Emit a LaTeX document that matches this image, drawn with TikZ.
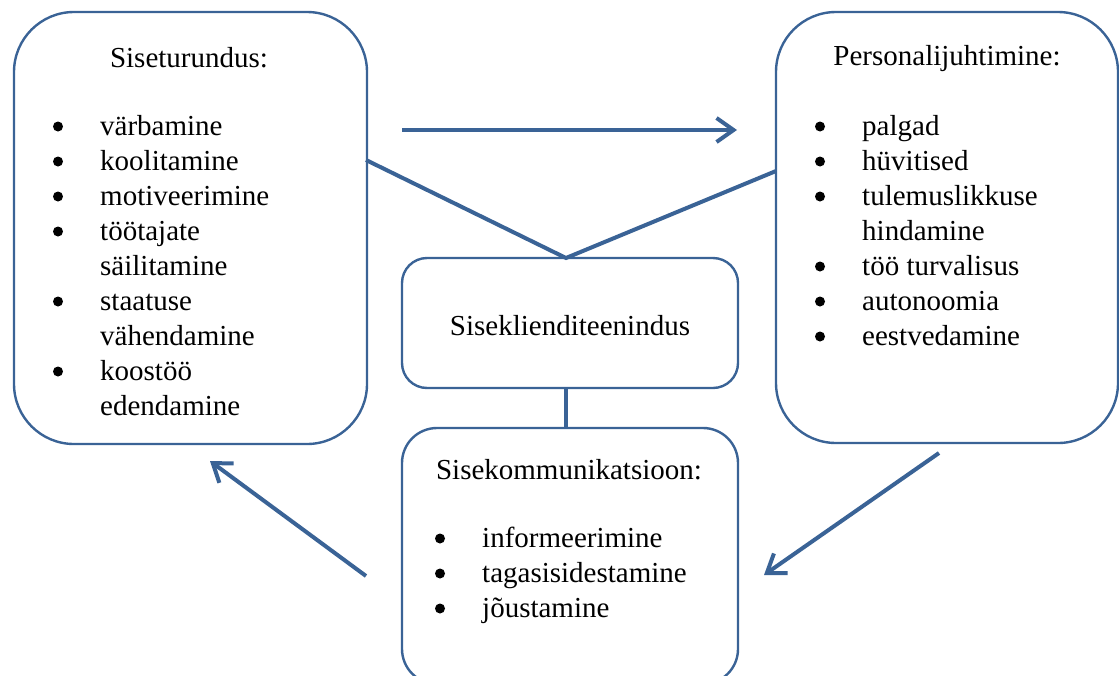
\documentclass[tikz,border=0pt]{standalone}
\usepackage{fontspec}
\setmainfont{Liberation Serif}
\usetikzlibrary{arrows.meta}
\definecolor{bl}{HTML}{3A6396}
\begin{document}
\begin{tikzpicture}[x=1pt,y=-1pt,
 box/.style={draw=bl, line width=2.4pt, rounded corners=#1, inner sep=0pt},
 conn/.style={draw=bl, line width=4pt},
 arr/.style={conn, -{Straight Barb[length=17pt,width=24pt]}},
 txt/.style={font=\fontsize{29}{35}\selectfont, anchor=base, inner sep=0pt},
 itm/.style={font=\fontsize{29}{35}\selectfont, anchor=base west, inner sep=0pt},
 bul/.style={circle, fill=black, minimum size=10pt, inner sep=0pt}
]
\useasboundingbox (0,0) rectangle (1119,675);
\clip (0,0) rectangle (1119,675);

% boxes
\node[box=60pt, minimum width=353pt, minimum height=432pt] (L) at (190.5,228) {};
\node[box=60pt, minimum width=342pt, minimum height=431pt] (R) at (947,227.5) {};
\node[box=25pt, minimum width=336pt, minimum height=130pt] (M) at (570,323) {};
\node[box=35pt, minimum width=336pt, minimum height=256pt] (B) at (570,556) {};

% left box text
\node[txt] (Lt) at (189,67) {Siseturundus:};
\node[bul] (Lb1) at (58,126.5) {};
\node[itm] (Li1) at (100,135) {värbamine};
\node[bul] (Lb2) at (58,161.5) {};
\node[itm] (Li2) at (100,170) {koolitamine};
\node[bul] (Lb3) at (58,196.5) {};
\node[itm] (Li3) at (100,205) {motiveerimine};
\node[bul] (Lb4) at (58,231.5) {};
\node[itm] (Li4) at (100,240) {töötajate};
\node[itm] (Li5) at (100,275) {säilitamine};
\node[bul] (Lb6) at (58,301.5) {};
\node[itm] (Li6) at (100,310) {staatuse};
\node[itm] (Li7) at (100,345) {vähendamine};
\node[bul] (Lb8) at (58,371.5) {};
\node[itm] (Li8) at (100,380) {koostöö};
\node[itm] (Li9) at (100,415) {edendamine};

% right box text
\node[txt] (Rt) at (947,65) {Personalijuhtimine:};
\node[bul] (Rb1) at (820,126.5) {};
\node[itm] (Ri1) at (862,135) {palgad};
\node[bul] (Rb2) at (820,161.5) {};
\node[itm] (Ri2) at (862,170) {hüvitised};
\node[bul] (Rb3) at (820,196.5) {};
\node[itm] (Ri3) at (862,205) {tulemuslikkuse};
\node[itm] (Ri4) at (862,240) {hindamine};
\node[bul] (Rb5) at (820,266.5) {};
\node[itm] (Ri5) at (862,275) {töö turvalisus};
\node[bul] (Rb6) at (820,301.5) {};
\node[itm] (Ri6) at (862,310) {autonoomia};
\node[bul] (Rb7) at (820,336.5) {};
\node[itm] (Ri7) at (862,345) {eestvedamine};

% middle box text
\node[txt] (Mt) at (570,335) {Siseklienditeenindus};

% bottom box text
\node[txt] (Bt) at (569,479) {Sisekommunikatsioon:};
\node[bul] (Bb1) at (440,538.5) {};
\node[itm] (Bi1) at (482,547) {informeerimine};
\node[bul] (Bb2) at (440,573.5) {};
\node[itm] (Bi2) at (482,582) {tagasisidestamine};
\node[bul] (Bb3) at (440,608.5) {};
\node[itm] (Bi3) at (482,617) {jõustamine};

% connector end points
\coordinate (vL) at (366,160);
\coordinate (vR) at (776,171);
\coordinate (vJ) at (566,258);
\coordinate (a1) at (402,130);
\coordinate (a2) at (737,130);
\coordinate (b1) at (366,576);
\coordinate (b2) at (210,461);
\coordinate (c1) at (939,453);
\coordinate (c2) at (764,575);

% connectors
\draw[conn] (vL) -- (vJ) -- (vR);
\draw[conn] (M.south -| vJ) -- (B.north -| vJ);
\draw[arr] (a1) -- (a2);
\draw[arr] (b1) -- (b2);
\draw[arr] (c1) -- (c2);
\end{tikzpicture}
\end{document}
